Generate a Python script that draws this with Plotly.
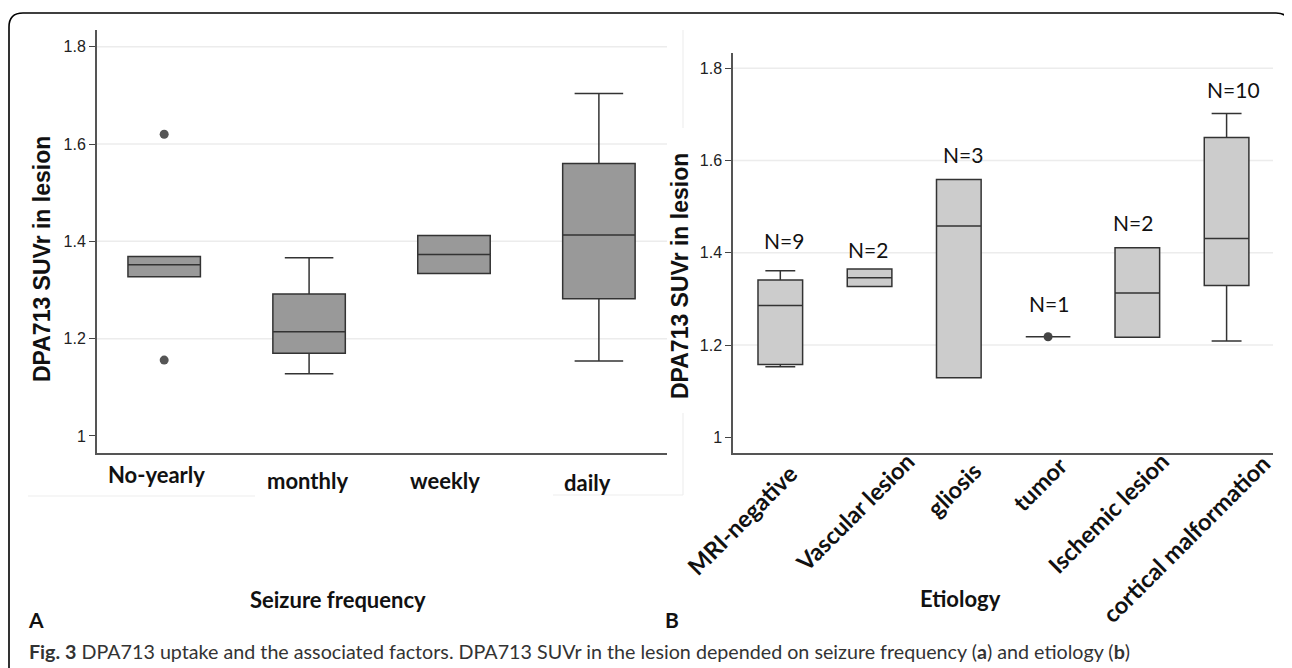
import plotly.graph_objects as go

# The page body has an 8px margin, so the figure is drawn 8px smaller and
# all target-pixel positions are shifted by that offset.
OFF = 8
W, H = 1284, 660

# ---------------- data ----------------
freq_cats = ["No-yearly", "monthly", "weekly", "daily"]
freq_lowerfence = [1.327, 1.128, 1.334, 1.154]
freq_q1 = [1.327, 1.170, 1.334, 1.282]
freq_median = [1.352, 1.214, 1.373, 1.413]
freq_q3 = [1.369, 1.292, 1.412, 1.560]
freq_upperfence = [1.369, 1.366, 1.412, 1.704]
freq_outlier_x = ["No-yearly", "No-yearly"]
freq_outlier_y = [1.620, 1.156]

etio_cats = ["MRI-negative", "Vascular lesion", "gliosis", "tumor",
             "Ischemic lesion", "cortical malformation"]
etio_lowerfence = [1.153, 1.327, 1.129, 1.218, 1.217, 1.209]
etio_q1 = [1.158, 1.327, 1.129, 1.218, 1.217, 1.329]
etio_median = [1.286, 1.346, 1.458, 1.218, 1.313, 1.431]
etio_q3 = [1.341, 1.365, 1.559, 1.218, 1.411, 1.650]
etio_upperfence = [1.361, 1.365, 1.559, 1.218, 1.411, 1.702]
etio_n = [9, 2, 3, 1, 2, 10]
etio_point_x = ["tumor"]
etio_point_y = [1.218]

y_ticks = [1.0, 1.2, 1.4, 1.6, 1.8]
y_ticktext = ["1", "1.2", "1.4", "1.6", "1.8"]
grid_vals = [1.2, 1.4, 1.6, 1.8]

caption = ("<b>Fig. 3</b> DPA713 uptake and the associated factors. DPA713 SUVr in the lesion "
           "depended on seizure frequency (<b>a</b>) and etiology (<b>b</b>)")

# ---------------- helpers (screen pixel -> paper) ----------------
def px(x):
    return (x - OFF) / W

def py(y):
    return 1 - (y - OFF) / H

LAB_FONT = "Lato"
AX_FONT = "Liberation Sans, Arial"

fig = go.Figure()

fig.add_trace(go.Box(
    x=freq_cats, q1=freq_q1, median=freq_median, q3=freq_q3,
    lowerfence=freq_lowerfence, upperfence=freq_upperfence,
    xaxis="x", yaxis="y", fillcolor="#999999",
    line=dict(color="#333333", width=1.5), width=0.5, whiskerwidth=0.67,
    boxpoints=False, showlegend=False, hoverinfo="skip"))
fig.add_trace(go.Scatter(
    x=freq_outlier_x, y=freq_outlier_y, mode="markers", xaxis="x", yaxis="y",
    marker=dict(color="#555555", size=9), showlegend=False, hoverinfo="skip"))

fig.add_trace(go.Box(
    x=etio_cats, q1=etio_q1, median=etio_median, q3=etio_q3,
    lowerfence=etio_lowerfence, upperfence=etio_upperfence,
    xaxis="x2", yaxis="y2", fillcolor="#cccccc",
    line=dict(color="#333333", width=1.5), width=0.5, whiskerwidth=0.67,
    boxpoints=False, showlegend=False, hoverinfo="skip"))
fig.add_trace(go.Scatter(
    x=etio_point_x, y=etio_point_y, mode="markers", xaxis="x2", yaxis="y2",
    marker=dict(color="#444444", size=9), showlegend=False, hoverinfo="skip"))

yaxis_common = dict(
    tickvals=y_ticks, ticktext=y_ticktext, showgrid=False, zeroline=False,
    showline=True, linecolor="#555555", linewidth=1.5, ticks="outside", ticklen=6,
    tickcolor="#444444", tickwidth=1.2, tickfont=dict(family=AX_FONT, size=16, color="#222222"))

fig.update_layout(
    width=W, height=H, autosize=False,
    margin=dict(l=0, r=0, t=0, b=0),
    paper_bgcolor="white", plot_bgcolor="rgba(0,0,0,0)",
    showlegend=False,
    xaxis=dict(domain=[px(96.8), px(667)], type="category", categoryorder="array",
               categoryarray=freq_cats, range=[-0.465, 3.47], showline=True,
               linecolor="#555555", linewidth=1.5, showgrid=False, zeroline=False,
               showticklabels=False, ticks="", anchor="y"),
    yaxis=dict(domain=[py(453), py(30)], range=[0.965, 1.8343], anchor="x", **yaxis_common),
    xaxis2=dict(domain=[px(733), px(1273)], type="category", categoryorder="array",
                categoryarray=etio_cats, range=[-0.53, 5.52], showline=True,
                linecolor="#555555", linewidth=1.5, showgrid=False, zeroline=False,
                showticklabels=False, ticks="", anchor="y2"),
    yaxis2=dict(domain=[py(452.7), py(52.7)], range=[0.9666, 1.8338], anchor="x2", **yaxis_common),
)

shapes = []
# gridlines
for g in grid_vals:
    shapes.append(dict(type="line", xref="x domain", yref="y", x0=0, x1=1, y0=g, y1=g,
                       line=dict(color="#ececec", width=1.5), layer="below"))
    shapes.append(dict(type="line", xref="x2 domain", yref="y2", x0=0, x1=1, y0=g, y1=g,
                       line=dict(color="#ececec", width=1.5), layer="below"))
# faint leftover lines of the composed figure
faint = dict(color="#eeeeee", width=1.2)
shapes += [
    dict(type="line", xref="paper", yref="paper", x0=px(28), x1=px(255), y0=py(496), y1=py(496), line=faint, layer="below"),
    dict(type="line", xref="paper", yref="paper", x0=px(683), x1=px(683), y0=py(30), y1=py(128), line=faint, layer="below"),
    dict(type="line", xref="paper", yref="paper", x0=px(683), x1=px(683), y0=py(413), y1=py(495), line=faint, layer="below"),
    dict(type="line", xref="paper", yref="paper", x0=px(553), x1=px(683), y0=py(495), y1=py(495), line=faint, layer="below"),
]
# rounded frame
x0, x1, yt, yb, r = 9.0, 1290.0, 13.0, 720.0, 14.0
rx, ry = r / W, r / H
path = (f"M {px(x0)},{py(yb)} L {px(x0)},{py(yt)-ry} Q {px(x0)},{py(yt)} {px(x0)+rx},{py(yt)} "
        f"L {px(x1)-rx},{py(yt)} Q {px(x1)},{py(yt)} {px(x1)},{py(yt)-ry} L {px(x1)},{py(yb)}")
shapes.append(dict(type="path", xref="paper", yref="paper", path=path,
                   line=dict(color="black", width=1.6)))
fig.update_layout(shapes=shapes)

ann = []
# left category labels
left_xshift = [-8, -2, -9, -11]
left_ycenter = [475, 480, 480, 482]
for c, xs, yc in zip(freq_cats, left_xshift, left_ycenter):
    ann.append(dict(x=c, xref="x", y=py(yc), yref="paper", text=f"<b>{c}</b>", showarrow=False,
                    xanchor="center", yanchor="middle", xshift=xs,
                    font=dict(family=LAB_FONT, size=22, color="#111111")))
# right rotated category labels (top-right corner of rotated text box)
right_xshift = [25, 53, 31, 27, 39, 51]
right_ytop = [457, 444, 454, 449, 444, 447]
for c, xs, yt_ in zip(etio_cats, right_xshift, right_ytop):
    ann.append(dict(x=c, xref="x2", y=py(yt_), yref="paper", text=f"<b>{c}</b>", showarrow=False,
                    xanchor="right", yanchor="top", xshift=xs, textangle=-45,
                    font=dict(family=LAB_FONT, size=23.5, color="#111111")))
# N labels above boxes
n_xshift = [4, -2, 4, 1, -4, 7]
n_yshift = [30, 19, 25, 33, 25, 24]
for c, n, uf, xs, ys in zip(etio_cats, etio_n, etio_upperfence, n_xshift, n_yshift):
    ann.append(dict(x=c, xref="x2", y=uf, yref="y2", text=f"N={n}", showarrow=False,
                    xanchor="center", yanchor="middle", xshift=xs, yshift=ys,
                    font=dict(family=LAB_FONT, size=21, color="#111111")))

def label(x, y, text, size, family=LAB_FONT, angle=0, xanchor="center", color="#111111"):
    return dict(x=px(x), y=py(y), xref="paper", yref="paper", text=text, textangle=angle,
                showarrow=False, xanchor=xanchor, yanchor="middle",
                font=dict(family=family, size=size, color=color))

ann += [
    label(42, 259, "<b>DPA713 SUVr in lesion</b>", 23, AX_FONT, -90),
    label(680, 276, "<b>DPA713 SUVr in lesion</b>", 23, AX_FONT, -90),
    label(338, 599, "<b>Seizure frequency</b>", 22),
    label(960, 598, "<b>Etiology</b>", 22),
    label(36, 619, "<b>A</b>", 21),
    label(672, 619, "<b>B</b>", 21),
    label(27, 651, caption, 19.7, xanchor="left", color="#333333"),
]
fig.update_layout(annotations=ann)

fig.write_html("out.html")
